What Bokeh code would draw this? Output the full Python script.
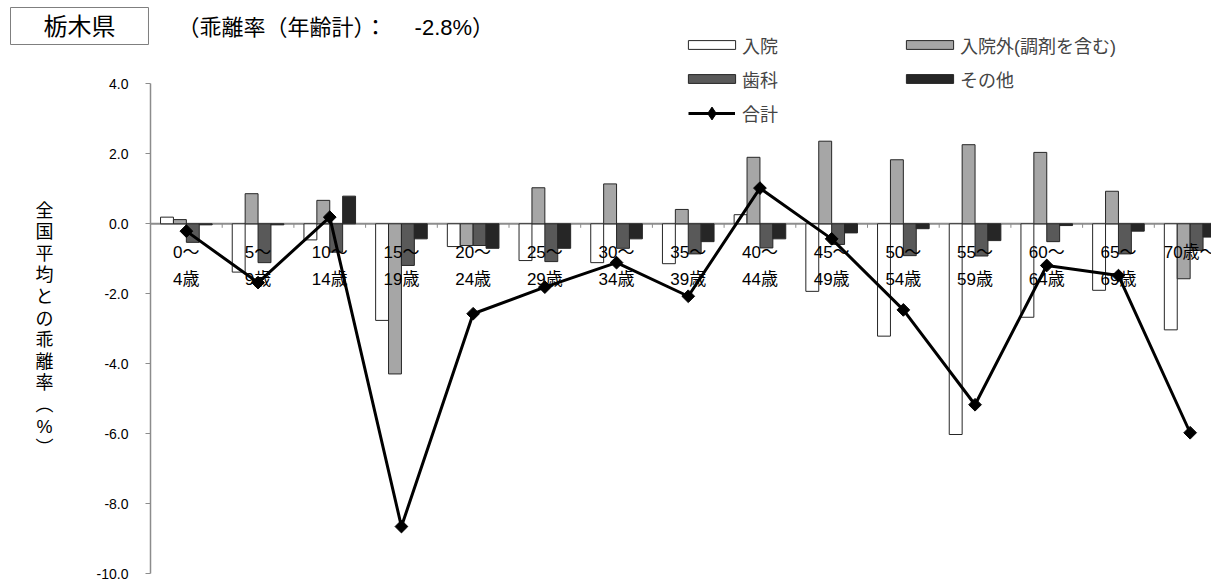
import numpy as np
from bokeh.plotting import figure
from bokeh.models import (Range1d, FixedTicker, NumeralTickFormatter, Label,
                          Legend, LegendItem)
from bokeh.core.properties import value
from bokeh.embed import file_html
from bokeh.resources import INLINE

# ---------------- data ----------------
label_top = ["0～", "5～", "10～", "15～", "20～", "25～", "30～", "35～",
             "40～", "45～", "50～", "55～", "60～", "65～", "70歳～"]
label_bottom = ["4歳", "9歳", "14歳", "19歳", "24歳", "29歳", "34歳", "39歳",
                "44歳", "49歳", "54歳", "59歳", "64歳", "69歳", ""]

inpatient = [0.19, -1.38, -0.46, -2.76, -0.65, -1.05, -1.11, -1.14,
             0.26, -1.93, -3.21, -6.02, -2.67, -1.90, -3.03]
outpatient = [0.12, 0.86, 0.67, -4.29, -0.62, 1.03, 1.14, 0.41,
              1.90, 2.36, 1.83, 2.26, 2.04, 0.93, -1.57]
dental = [-0.53, -1.11, -0.81, -1.19, -0.62, -1.08, -0.70, -0.86,
          -0.69, -0.59, -0.91, -0.92, -0.51, -0.86, -0.76]
other = [-0.03, -0.03, 0.79, -0.43, -0.70, -0.70, -0.43, -0.51,
         -0.43, -0.26, -0.14, -0.48, -0.05, -0.21, -0.38]
total = [-0.21, -1.68, 0.19, -8.65, -2.57, -1.81, -1.11, -2.07,
         1.02, -0.43, -2.46, -5.17, -1.19, -1.48, -5.97]

series_names = ["入院", "入院外(調剤を含む)", "歯科", "その他"]
total_name = "合計"
title_text = "栃木県"
subtitle_text = "（乖離率（年齢計）：　  -2.8%）"
ytitle_text = "全国平均との乖離率︵%︶"
y_ticks = [-10, -8, -6, -4, -2, 0, 2, 4]

# ---------------- layout ----------------
FONT = "Liberation Sans, Noto Sans CJK JP"
W, H = 1211, 583
AXIS_X = 150.0      # pixel x of the value axis
ZERO_Y = 223.3      # pixel y of value 0
PX_CAT = 71.7       # pixels per category
PX_UNIT = 35.0      # pixels per 1.0 %

x_range = Range1d(-AXIS_X / PX_CAT, (W - AXIS_X) / PX_CAT)
y_range = Range1d((ZERO_Y - H) / PX_UNIT, ZERO_Y / PX_UNIT)

def fx(px):
    return px

def fy(py):
    return H - py

p = figure(width=W, height=H, output_backend="svg", toolbar_location=None,
           x_range=x_range, y_range=y_range,
           x_axis_location=None, min_border=0, min_border_left=0, min_border_right=0,
           min_border_top=0, min_border_bottom=0)
p.outline_line_color = None
p.grid.grid_line_color = None
p.background_fill_color = "white"

ax = p.yaxis[0]
ax.fixed_location = 0
ax.ticker = FixedTicker(ticks=y_ticks)
ax.formatter = NumeralTickFormatter(format="0.0")
ax.bounds = (-10, 4)
ax.axis_line_color = "#8c8c8c"
ax.axis_line_width = 1.5
ax.major_tick_line_color = "#8c8c8c"
ax.major_tick_out = 5
ax.major_tick_in = 0
ax.minor_tick_out = 0
ax.minor_tick_in = 0
ax.major_label_standoff = 17
ax.major_label_text_font = FONT
ax.major_label_text_font_size = "14px"
ax.major_label_text_color = "black"

n = len(total)
xc = np.arange(n) + 0.5

# zero line and category ticks
p.segment(x0=[0], y0=[0], x1=[x_range.end], y1=[0], line_color="#8c8c8c", line_width=2)
bounds = np.arange(1, n)
p.segment(x0=bounds, y0=np.zeros(len(bounds)), x1=bounds,
          y1=np.full(len(bounds), -4.0 / PX_UNIT), line_color="#8c8c8c", line_width=1)

# bars
offsets = [-0.27, -0.09, 0.09, 0.27]
bw = 0.18
fills = ["white", "#a6a6a6", "#595959", "#262626"]
bar_vals = [inpatient, outpatient, dental, other]
bar_r = []
for off, fc, vals in zip(offsets, fills, bar_vals):
    r = p.vbar(x=xc + off, top=vals, bottom=0, width=bw, fill_color=fc,
               line_color="#262626", line_width=1)
    bar_r.append(r)

# category labels
p.text(x=xc, y=np.full(n, -28.4 / PX_UNIT), text=label_top, text_align="center",
       text_baseline="middle", text_font=value(FONT), text_font_size="17px", text_color="black")
p.text(x=xc, y=np.full(n, -56.0 / PX_UNIT), text=label_bottom, text_align="center",
       text_baseline="middle", text_font=value(FONT), text_font_size="17px", text_color="black")

# total line
lr = p.line(xc, total, line_color="black", line_width=3)
sr = p.scatter(xc, total, marker="square", angle=np.pi / 4, size=9,
               fill_color="black", line_color="black")
# legend-only diamond (no visible point)
legend_marker = p.scatter(x=np.array([np.nan]), y=np.array([np.nan]), marker="diamond",
                          fill_color="black", line_color="black")

# legends
ROW_H, ROW_GAP = 25.5, 8

def make_legend(items, left_px, top_px, gw, gh, row_h, standoff):
    h = len(items) * row_h + (len(items) - 1) * ROW_GAP
    return Legend(items=items, location=(fx(left_px), fy(top_px + h)), padding=0, margin=0,
                  spacing=ROW_GAP, border_line_color=None, background_fill_alpha=0,
                  glyph_width=gw, glyph_height=gh, label_height=20, label_standoff=standoff,
                  label_text_font=FONT, label_text_font_size="18px")

GW, GH = 59, 11
left_items = [LegendItem(label=series_names[0], renderers=[bar_r[0]]),
              LegendItem(label=series_names[2], renderers=[bar_r[2]])]
right_items = [LegendItem(label=series_names[1], renderers=[bar_r[1]]),
               LegendItem(label=series_names[3], renderers=[bar_r[3]])]
tot_items = [LegendItem(label=total_name, renderers=[lr, legend_marker])]
row1_center = 45.5
p.add_layout(make_legend(left_items, 688 - GW * 0.1, row1_center - ROW_H / 2,
                         GW, GH, ROW_H, 1), "center")
p.add_layout(make_legend(right_items, 906 - GW * 0.1, row1_center - ROW_H / 2,
                         GW, GH, ROW_H, 1), "center")
p.add_layout(make_legend(tot_items, 688, 112.5 - 16, 47, 32, 32, 7), "center")

# title box & subtitle
p.add_layout(Label(x=fx(79), y=fy(25.5), x_units="screen", y_units="screen",
                   text=title_text, text_align="center", text_baseline="middle",
                   text_font=FONT, text_font_size="24px", text_color="black",
                   border_line_color="#7f7f7f", border_line_width=1,
                   background_fill_color="white", padding=(33, 5)))
p.add_layout(Label(x=fx(177), y=fy(27), x_units="screen", y_units="screen",
                   text=subtitle_text, text_align="left", text_baseline="middle",
                   text_font=FONT, text_font_size="22px", text_color="black"))

# vertical y-axis title (upright glyphs, one per line)
p.add_layout(Label(x=fx(44), y=fy(329), x_units="screen", y_units="screen",
                   text="\n".join(list(ytitle_text)), text_align="center",
                   text_baseline="middle", text_font=FONT, text_font_size="18px",
                   text_line_height=1.08, text_color="black"))

open("out.html", "w").write(file_html(p, INLINE))
